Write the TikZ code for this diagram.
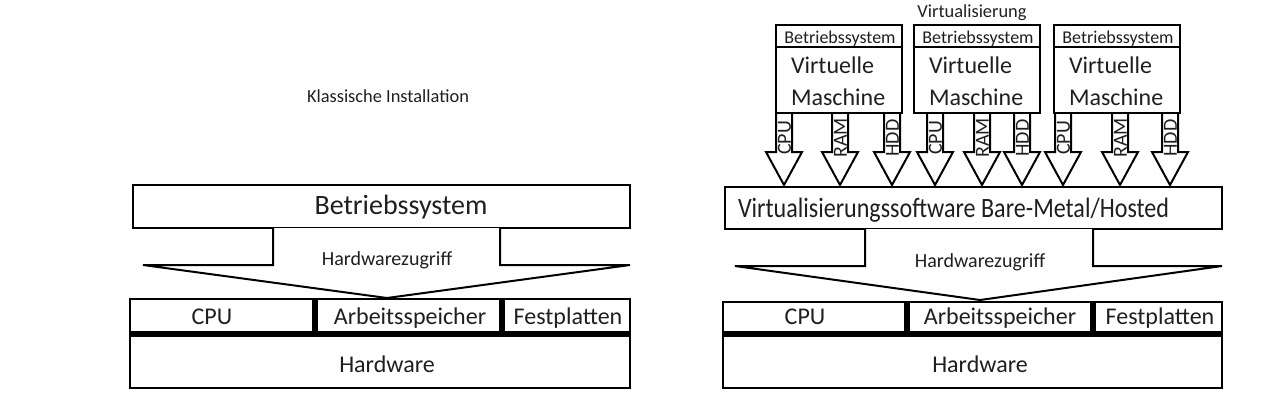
\documentclass[tikz,border=0pt]{standalone}
\usepackage{fontspec}
\setmainfont{Carlito}
\begin{document}
\begin{tikzpicture}[x=1pt,y=-1pt,
  box/.style={draw, line width=2.5pt, fill=white, inner sep=0pt, outer sep=0pt, anchor=north west},
  lbl/.style={inner sep=0pt, outer sep=0pt, text=black!88, anchor=base},
  big/.style={lbl, font=\fontsize{28}{30}\selectfont},
  mid/.style={lbl, font=\fontsize{24}{26}\selectfont},
  hz/.style={lbl, font=\fontsize{20}{22}\selectfont},
  ttl/.style={lbl, font=\fontsize{18.4}{21}\selectfont},
  osl/.style={lbl, font=\fontsize{18}{20}\selectfont},
  alabel/.style={inner sep=0pt, text=black!88, font=\fontsize{20}{22}\selectfont, rotate=90, anchor=center},
  arr/.style={draw, line width=2pt, fill=white, line join=miter},
  sep/.style={line width=5.5pt}]
\useasboundingbox (0,0) rectangle (1280,416);

% ---------------- left: Klassische Installation ----------------
\node[ttl] (t1) at (388,102) {Klassische Installation};
\node[box, minimum width=497pt, minimum height=43pt] (os1) at (133,185) {};
\node[big] (os1t) at (401,214) {Betriebssystem};
\draw[arr] (273,228) -- (273,265) -- (143,265) -- (387,298) -- (630,265) -- (500,265) -- (500,228);
\node[hz] (hz1) at (387,265) {Hardwarezugriff};
\node[box, minimum width=185pt, minimum height=35pt] (cpu1) at (130,299) {};
\node[box, minimum width=187pt, minimum height=35pt] (arb1) at (315,299) {};
\node[box, minimum width=128pt, minimum height=35pt] (fest1) at (502,299) {};
\node[box, minimum width=500pt, minimum height=54pt] (hw1) at (130,334) {};
\draw[sep] (cpu1.north east) -- (cpu1.south east);
\draw[sep] (arb1.north east) -- (arb1.south east);
\draw[sep] (hw1.north west) -- (hw1.north east);
\node[mid] (cpu1t) at (212,324) {CPU};
\node[mid] (arb1t) at (410,324) {Arbeitsspeicher};
\node[mid] (fest1t) at (568,324) {Festplatten};
\node[mid] (hw1t) at (387,372) {Hardware};

% ---------------- right: Virtualisierung ----------------
\node[ttl] (t2) at (972,17) {Virtualisierung};
\foreach \x/\lab/\n in {784/CPU/1, 840/RAM/2, 892/HDD/3, 935/CPU/4, 982/RAM/5, 1022/HDD/6, 1063/CPU/7, 1120/RAM/8, 1170/HDD/9}{
  \draw[arr] (\x-8,113) -- (\x-8,152) -- (\x-18,152) -- (\x,185) -- (\x+18,152) -- (\x+8,152) -- (\x+8,113);
  \node[alabel] (al\n) at (\x+0.5,138) {\lab};
}
\foreach \x/\n in {776/1, 914/2, 1054/3}{
  \node[box, minimum width=126pt, minimum height=22pt] (os\n v) at (\x,25) {};
  \node[box, minimum width=126pt, minimum height=66pt] (vm\n) at (\x,47) {};
  \node[osl] (os\n vt) at (\x+64,43) {Betriebssystem};
  \node[mid, anchor=base west] (vm\n a) at (\x+15,73) {Virtuelle};
  \node[mid, anchor=base west] (vm\n b) at (\x+15,105) {Maschine};
}
\node[box, minimum width=497pt, minimum height=42pt] (vsw) at (725,187) {};
\node[lbl, anchor=base west, font=\fontsize{28}{30}\selectfont, xscale=0.86] (vswt) at (738,217) {Virtualisierungssoftware Bare-Metal/Hosted};
\draw[arr] (865,229) -- (865,266) -- (735,266) -- (980,300) -- (1222,266) -- (1093,266) -- (1093,229);
\node[hz] (hz2) at (980,267) {Hardwarezugriff};
\node[box, minimum width=184pt, minimum height=32pt] (cpu2) at (723,302) {};
\node[box, minimum width=186pt, minimum height=32pt] (arb2) at (907,302) {};
\node[box, minimum width=129pt, minimum height=32pt] (fest2) at (1093,302) {};
\node[box, minimum width=499pt, minimum height=54pt] (hw2) at (723,334) {};
\draw[sep] (cpu2.north east) -- (cpu2.south east);
\draw[sep] (arb2.north east) -- (arb2.south east);
\draw[sep] (hw2.north west) -- (hw2.north east);
\node[mid] (cpu2t) at (805,324) {CPU};
\node[mid] (arb2t) at (1000,324) {Arbeitsspeicher};
\node[mid] (fest2t) at (1160,324) {Festplatten};
\node[mid] (hw2t) at (980,372) {Hardware};
\end{tikzpicture}
\end{document}
